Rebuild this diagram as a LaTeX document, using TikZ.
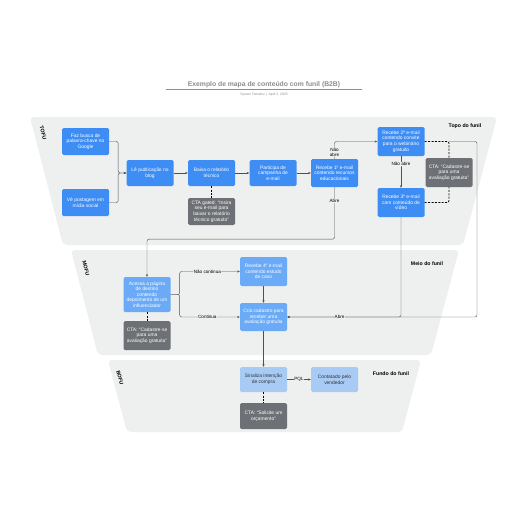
\documentclass[tikz,border=0pt]{standalone}
\usepackage{fontspec}
\setmainfont{Liberation Sans}
\usetikzlibrary{arrows.meta}
\definecolor{tofublue}{HTML}{3D8DF5}
\definecolor{mofublue}{HTML}{6AAAF6}
\definecolor{bofublue}{HTML}{A8CBF6}
\definecolor{ctagray}{HTML}{6D7074}
\definecolor{bandgray}{HTML}{EEEFEF}
\definecolor{linegray}{HTML}{505050}
\definecolor{titlegray}{HTML}{8A8D91}

\begin{document}
\begin{tikzpicture}[x=1pt,y=-1pt,
  box/.style={rectangle,rounded corners=1.5pt,text=white,align=center,
              font=\fontsize{4.9}{5.6}\selectfont,
              minimum width=47pt,inner sep=.5pt},
  tofu/.style={box,fill=tofublue},
  mofu/.style={box,fill=mofublue},
  bofu/.style={box,fill=bofublue,text=black!80},
  cta/.style={box,fill=ctagray},
  conn/.style={draw=linegray,line width=.45pt,rounded corners=2pt,
               -{Stealth[length=2.6pt,width=2.2pt]}},
  ctaline/.style={draw=black,line width=.7pt,dash pattern=on 2pt off 1.4pt,
                  rounded corners=2pt},
  elabel/.style={fill=bandgray,inner sep=.5pt,align=center,
                 font=\fontsize{4.6}{5}\selectfont},
  band/.style={fill=bandgray,rounded corners=4pt},
  stage/.style={font=\fontsize{5.2}{6}\selectfont\bfseries},
  tag/.style={font=\fontsize{5.2}{6}\selectfont\bfseries,rotate=-75.5}]
  \useasboundingbox[fill=white] (0,0) rectangle (516,516);

  % Funnel bands
  \fill[band] (30,117) -- (497,117) -- (463,245) -- (63,245) -- cycle;
  \fill[band] (71,250) -- (459,250) -- (431,355) -- (98,355) -- cycle;
  \fill[band] (108,360) -- (421,360) -- (402,432) -- (127,432) -- cycle;

  % Title
  \node[font=\fontsize{6.8}{7}\selectfont\bfseries,text=titlegray] (title) at (264,84.5)
    {Exemplo de mapa de conteúdo com funil (B2B)};
  \draw[titlegray,line width=.5pt] (166,89.5) -- (362,89.5);
  \node[font=\fontsize{3.4}{4}\selectfont,text=titlegray] (sub) at (264,95)
    {Synam Tamatsu \,|\, April 2, 2025};

  \node[tag] (ltofu) at (43,133) {TOFU};
  \node[tag] (lmofu) at (86,268) {MOFU};
  \node[tag] (lbofu) at (120,378) {BOFU};
  \node[stage] (stofu) at (465,126) {Topo do funil};
  \node[stage] (smofu) at (427,264) {Meio do funil};
  \node[stage] (sbofu) at (391,374) {Fundo do funil};

  % TOFU
  \node[tofu,minimum height=27pt] (busca) at (85.5,141.5)
    {Faz busca de\\palavra-chave no\\Google};
  \node[tofu,minimum height=27pt] (social) at (85.5,202.5) {Vê postagem em\\mídia social};
  \node[tofu,minimum height=26pt] (blog) at (150,173) {Lê publicação no\\blog};
  \node[tofu,minimum height=26pt] (relat) at (211.5,173) {Baixa o relatório\\técnico};
  \node[cta,minimum height=27pt] (gated) at (211.5,211.5)
    {CTA gated: “Insira\\seu e-mail para\\baixar o relatório\\técnico gratuito”};
  \node[tofu,minimum height=26pt] (camp) at (273,173) {Participa de\\campanha de\\e-mail};
  \node[tofu,minimum height=28pt] (mail1) at (334.5,173)
    {Recebe 1º e-mail\\contendo recursos\\educacionais};
  \node[tofu,minimum height=29pt] (mail2) at (401,141.5)
    {Recebe 2º e-mail\\contendo convite\\para o webinário\\gratuito};
  \node[cta,minimum height=29pt] (ctaweb) at (449,172.5)
    {CTA: “Cadastre-se\\para uma\\avaliação gratuita”};
  \node[tofu,minimum height=29pt] (mail3) at (401,202.5)
    {Recebe 3º e-mail\\com conteúdo de\\vídeo};

  % MOFU
  \node[mofu,minimum height=35pt] (pagina) at (147,294.5)
    {Acessa a página\\de destino\\contendo\\depoimento de um\\influenciador};
  \node[cta,minimum height=29pt] (ctaaval) at (147,335.5)
    {CTA: “Cadastre-se\\para uma\\avaliação gratuita”};
  \node[mofu,minimum height=29pt] (mail4) at (263.5,271.5)
    {Recebe 4º e-mail\\contendo estudo\\de caso};
  \node[mofu,minimum height=28pt] (cadastro) at (263.5,317)
    {Cria cadastro para\\receber uma\\avaliação gratuita};

  % BOFU
  \node[bofu,minimum height=25pt] (intencao) at (263.5,379.5) {Sinaliza intenção\\de compra};
  \node[bofu,minimum height=25pt] (vendedor) at (334.5,379.5) {Contatado pelo\\vendedor};
  \node[cta,minimum height=26pt] (orcam) at (263.5,416) {CTA: “Solicite um\\orçamento”};

  % Connectors
  \draw[conn] (busca.east) -- ++(9,0) |- (blog.west);
  \draw[conn] (social.east) -- ++(9,0) |- (blog.west);
  \draw[conn] (blog) -- (relat);
  \draw[conn] (relat) -- (camp);
  \draw[conn] (camp) -- (mail1);
  \draw[ctaline] (relat) -- (gated);
  \draw[conn] (mail1.north) |- node[elabel,pos=.2] {Não\\abre} (mail2.west);
  \draw[conn] (mail2) -- node[elabel,pos=.25] {Não abre} (mail3);
  \draw[ctaline] (mail2.east) -| (ctaweb.north);
  \draw[ctaline] (mail3.east) -| (ctaweb.south);
  \coordinate (webcorner) at (ctaweb.north |- mail2.east);
  \draw[conn] (webcorner) -- ++(28,0) |- (cadastro.east);
  \draw[conn] (mail3.south) |- node[elabel,pos=.77] {Abre} (cadastro.east);
  \draw[conn] (mail1.south) -- node[elabel,pos=.27] {Abre} ++(0,52) -| (pagina.north);
  \draw[ctaline] (pagina) -- (ctaaval);
  \draw[conn] (pagina.east) -- ++(9,0) |- node[elabel,pos=.73] {Não continua} (mail4.west);
  \draw[conn] (pagina.east) -- ++(9,0) |- node[elabel,pos=.73] {Continua} (cadastro.west);
  \draw[conn] (mail4) -- (cadastro);
  \draw[conn] (cadastro) -- (intencao);
  \draw[conn] (intencao) -- node[elabel] {PQL} (vendedor);
  \draw[ctaline] (intencao) -- (orcam);
\end{tikzpicture}
\end{document}
